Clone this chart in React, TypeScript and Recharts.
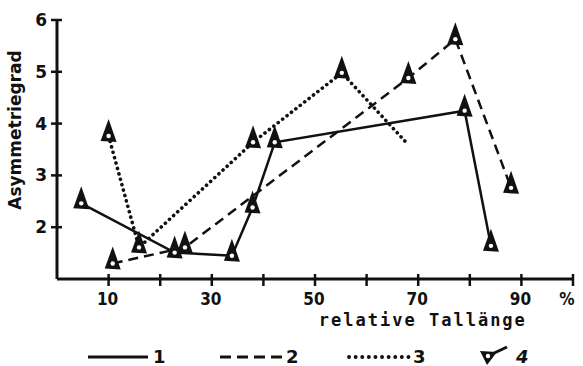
import React from 'react';
import { LineChart, Line, XAxis, YAxis } from 'recharts';

// Werte
const series1X = [4.7, 22.8, 33.9, 37.9, 42.2, 79.0, 84.1];
const series1Y = [2.46, 1.51, 1.45, 2.38, 3.64, 4.25, 1.64];
const series2X = [10.8, 24.8, 68.1, 77.2, 88.0];
const series2Y = [1.3, 1.61, 4.88, 5.63, 2.76];
const series3X = [10.0, 15.9, 38.0, 55.2, 68.1];
const series3Y = [3.76, 1.61, 3.64, 4.98, 3.59];

const xTicks = [10, 20, 30, 40, 50, 60, 70, 80, 90, 100];
const xTickLabels = ['10', '', '30', '', '50', '', '70', '', '90', '%'];
const yTicks = [2, 3, 4, 5, 6];
const legendLabels = ['1', '2', '3', '4'];

const toPoints = (xs: number[], ys: number[]) => xs.map((x, i) => ({ x, y: ys[i] }));
const s1 = toPoints(series1X, series1Y);
const s2 = toPoints(series2X, series2Y);
const s3 = toPoints(series3X, series3Y);

const INK = '#111';
const TICK_MARGIN = 10;

const Flag = ({ cx, cy }: { cx: number; cy: number }) => (
  <g>
    <path d={`M${cx},${cy - 17} L${cx - 8},${cy + 5} L${cx + 8},${cy + 6} Z`} fill={INK} />
    <circle cx={cx} cy={cy} r={2.2} fill="#fff" />
  </g>
);

const renderDot = (skipLast: number) => (p: any) => {
  if (p.index === skipLast || p.cx == null) return <g key={p.index} />;
  return <Flag key={p.index} cx={p.cx} cy={p.cy} />;
};

const YTick = (props: any) => {
  const { x, y, payload } = props;
  const ax = x + TICK_MARGIN;
  return (
    <g>
      <line x1={ax - 6} x2={ax + 5} y1={y} y2={y} stroke={INK} strokeWidth={2.5} />
      <text x={x} y={y} dy={6} textAnchor="end" fontFamily="DejaVu Sans, sans-serif" fontWeight="bold" fontSize={17} fill={INK}>
        {payload.value}
      </text>
    </g>
  );
};

const XTick = (props: any) => {
  const { x, y, payload } = props;
  const ay = y - TICK_MARGIN;
  const label = xTickLabels[xTicks.indexOf(payload.value)];
  return (
    <g>
      <line x1={x} x2={x} y1={ay - 5} y2={ay + 7} stroke={INK} strokeWidth={2.5} />
      <text x={label === '%' ? x - 6 : x - 1} y={ay + 26} textAnchor="middle" fontFamily="DejaVu Sans Condensed, DejaVu Sans, sans-serif" fontWeight="bold" fontSize={17} fill={INK}>
        {label}
      </text>
    </g>
  );
};

const Legend = () => {
  const num = { fontFamily: 'DejaVu Sans, sans-serif', fontWeight: 'bold' as const, fontSize: 18, fill: INK };
  return (
    <svg width={583} height={30} style={{ position: 'absolute', left: 0, top: 336 }}>
      <line x1={88} x2={148} y1={21} y2={21} stroke={INK} strokeWidth={3} />
      <text x={153} y={27} {...num}>{legendLabels[0]}</text>
      <line x1={220} x2={283} y1={21} y2={21} stroke={INK} strokeWidth={3} strokeDasharray="11 6" />
      <text x={286} y={27} {...num}>{legendLabels[1]}</text>
      <line x1={349} x2={409} y1={21} y2={21} stroke={INK} strokeWidth={3.8} strokeDasharray="0.1 6.5" strokeLinecap="round" />
      <text x={413} y={27} {...num}>{legendLabels[2]}</text>
      <path d="M480,15 L497,16 L487,29 Z" fill={INK} />
      <line x1={490} x2={507} y1={19} y2={11} stroke={INK} strokeWidth={3} />
      <circle cx={488} cy={20} r={2.2} fill="#fff" />
      <text x={516} y={27} {...num} fontStyle="italic">{legendLabels[3]}</text>
    </svg>
  );
};

export default function App() {
  return (
    <div style={{ position: 'absolute', left: 0, top: 0, width: 583, height: 366, background: '#fff' }}>
      <LineChart width={583} height={366} margin={{ top: 20, right: 10, left: 17, bottom: 57 }}>
        <XAxis
          dataKey="x"
          type="number"
          domain={[0, 100]}
          ticks={xTicks}
          interval={0}
          height={30}
          tickSize={0}
          tickMargin={TICK_MARGIN}
          tickLine={false}
          axisLine={{ stroke: INK, strokeWidth: 3 }}
          tick={<XTick />}
          label={{
            content: (p: any) => (
              <text
                x={p.viewBox.x + p.viewBox.width * 0.709}
                y={p.viewBox.y + 47}
                textAnchor="middle"
                fontFamily="DejaVu Sans Mono, monospace"
                fontWeight="bold"
                fontSize={17}
                letterSpacing={2}
                fill={INK}
              >
                relative Tallänge
              </text>
            ),
          }}
        />
        <YAxis
          type="number"
          domain={[1, 6]}
          ticks={yTicks}
          interval={0}
          width={40}
          tickSize={0}
          tickMargin={TICK_MARGIN}
          tickLine={false}
          axisLine={{ stroke: INK, strokeWidth: 3 }}
          tick={<YTick />}
          label={{
            content: (p: any) => {
              const lx = p.viewBox.x + 4;
              const ly = p.viewBox.y + p.viewBox.height * 0.425;
              return (
                <text
                  x={lx}
                  y={ly}
                  transform={`rotate(-90, ${lx}, ${ly})`}
                  textAnchor="middle"
                  fontFamily="DejaVu Sans, sans-serif"
                  fontWeight="bold"
                  fontSize={17}
                  fill={INK}
                >
                  Asymmetriegrad
                </text>
              );
            },
          }}
        />
        <Line data={s1} dataKey="y" type="linear" stroke={INK} strokeWidth={2.5} dot={renderDot(-1)} activeDot={false} isAnimationActive={false} />
        <Line data={s2} dataKey="y" type="linear" stroke={INK} strokeWidth={2.5} strokeDasharray="10 6" dot={renderDot(-1)} activeDot={false} isAnimationActive={false} />
        <Line data={s3} dataKey="y" type="linear" stroke={INK} strokeWidth={3.6} strokeDasharray="0.1 5.5" strokeLinecap="round" dot={renderDot(series3X.length - 1)} activeDot={false} isAnimationActive={false} />
      </LineChart>
      <Legend />
    </div>
  );
}
